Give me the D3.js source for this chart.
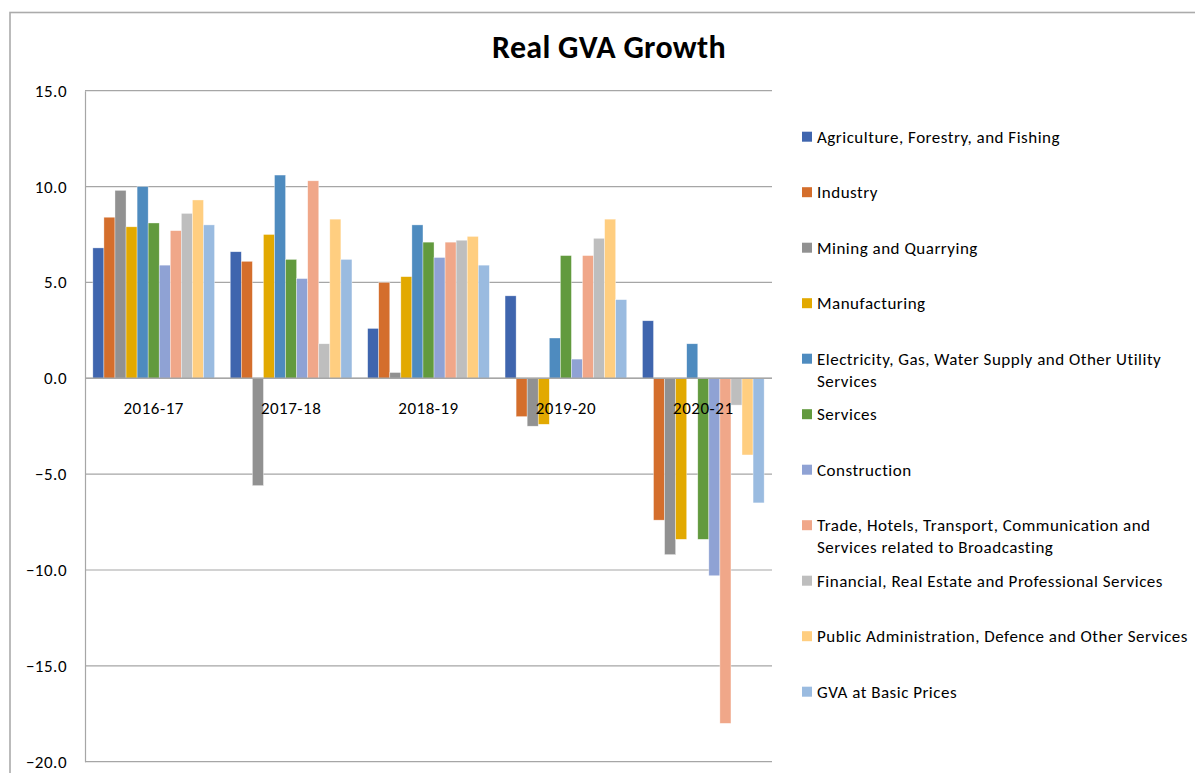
<!DOCTYPE html>
<html>
<head>
<meta charset="utf-8">
<script src="https://cdn.jsdelivr.net/npm/d3@7"></script>
<style>
  html, body { margin: 0; padding: 0; background: #fff; overflow: hidden; }
  svg { display: block; }
  text { font-family: Carlito, Calibri, Lato, "Open Sans", sans-serif; fill: #000; }
</style>
</head>
<body>
<svg id="chart" width="1195" height="773"></svg>
<script>
// ---- data ----
const categories = ["2016-17", "2017-18", "2018-19", "2019-20", "2020-21"];
const seriesNames = [
  "Agriculture, Forestry, and Fishing",
  "Industry",
  "Mining and Quarrying",
  "Manufacturing",
  "Electricity, Gas, Water Supply and Other Utility Services",
  "Services",
  "Construction",
  "Trade, Hotels, Transport, Communication and Services related to Broadcasting",
  "Financial, Real Estate and Professional Services",
  "Public Administration, Defence and Other Services",
  "GVA at Basic Prices"
];
// legend wrap: number of words on the first line (0 = no wrap)
const legendFirstLineWords = [0, 0, 0, 0, 7, 0, 0, 5, 0, 0, 0];
const agriculture   = [6.8, 6.6, 2.6, 4.3, 3.0];
const industry      = [8.4, 6.1, 5.0, -2.0, -7.4];
const mining        = [9.8, -5.6, 0.3, -2.5, -9.2];
const manufacturing = [7.9, 7.5, 5.3, -2.4, -8.4];
const electricity   = [10.0, 10.6, 8.0, 2.1, 1.8];
const services      = [8.1, 6.2, 7.1, 6.4, -8.4];
const construction  = [5.9, 5.2, 6.3, 1.0, -10.3];
const trade         = [7.7, 10.3, 7.1, 6.4, -18.0];
const financial     = [8.6, 1.8, 7.2, 7.3, -1.4];
const publicAdmin   = [9.3, 8.3, 7.4, 8.3, -4.0];
const gva           = [8.0, 6.2, 5.9, 4.1, -6.5];
const seriesValues = [agriculture, industry, mining, manufacturing, electricity,
  services, construction, trade, financial, publicAdmin, gva];
const seriesColors = ["#3F65AE", "#D46E2C", "#919191", "#E2A900", "#4E8BBF",
  "#629A3E", "#8FA2D4", "#F0A789", "#BEBEBE", "#FFCE80", "#9ABBE0"];
const yTicks = [15, 10, 5, 0, -5, -10, -15, -20];
const title = "Real GVA Growth";

// ---- layout ----
const svg = d3.select("#chart");
const plot = { left: 85, right: 772, top: 90.7, bottom: 761.7 };
const bodyFont = { size: "17px", spacing: "0.5px" };

// chart frame
svg.append("rect")
  .attr("x", 10).attr("y", 12.5).attr("width", 1300).attr("height", 900)
  .attr("fill", "none").attr("stroke", "#ABABAB").attr("stroke-width", 1.6);

// title
svg.append("text")
  .attr("x", 609).attr("y", 58)
  .attr("text-anchor", "middle")
  .style("font-size", "32px").style("font-weight", "bold")
  .style("letter-spacing", "0.3px")
  .text(title);

// scales
const y = d3.scaleLinear().domain([-20, 15]).range([plot.bottom, plot.top]);
const x0 = d3.scaleBand().domain(categories).range([plot.left, plot.right]).padding(0);
const x1 = d3.scaleBand().domain(d3.range(seriesNames.length))
  .range([0, x0.bandwidth()]).paddingInner(0).paddingOuter(0.71);

// gridlines
svg.append("g").selectAll("line").data(yTicks).join("line")
  .attr("x1", plot.left).attr("x2", plot.right)
  .attr("y1", d => y(d)).attr("y2", d => y(d))
  .attr("stroke", "#A6A6A6").attr("stroke-width", 1.2);

// y axis
const yAxis = svg.append("g")
  .attr("transform", `translate(${plot.left},0)`)
  .call(d3.axisLeft(y).tickValues(yTicks).tickFormat(d3.format(".1f")).tickSize(0).tickPadding(18));
yAxis.select(".domain").attr("stroke", "#A6A6A6").attr("stroke-width", 1.2);
yAxis.selectAll("text")
  .style("font-size", bodyFont.size)
  .style("letter-spacing", bodyFont.spacing)
  .style("font-family", "Carlito, Calibri, Lato, sans-serif")
  .attr("fill", "#000");

// bars
const rows = [];
categories.forEach((c, ci) => {
  seriesValues.forEach((vals, si) => rows.push({ c, si, v: vals[ci] }));
});
svg.append("g").selectAll("rect").data(rows).join("rect")
  .attr("x", d => x0(d.c) + x1(d.si))
  .attr("width", x1.bandwidth())
  .attr("y", d => y(Math.max(0, d.v)))
  .attr("height", d => Math.abs(y(d.v) - y(0)))
  .attr("fill", d => seriesColors[d.si])
  .attr("stroke", "#ffffff").attr("stroke-opacity", 0.6).attr("stroke-width", 0.6);

// zero axis line
svg.append("line")
  .attr("x1", plot.left).attr("x2", plot.right)
  .attr("y1", y(0)).attr("y2", y(0))
  .attr("stroke", "#A6A6A6").attr("stroke-width", 1.4);

// category labels (next to axis)
svg.append("g").selectAll("text").data(categories).join("text")
  .attr("x", d => x0(d) + x0.bandwidth() / 2)
  .attr("y", y(0) + 36)
  .attr("text-anchor", "middle")
  .style("font-size", bodyFont.size)
  .style("letter-spacing", bodyFont.spacing)
  .text(d => d);

// legend
const legend = svg.append("g");
const legendTop = 136.7, legendStep = 55.5, lineH = 22;
seriesNames.forEach((name, i) => {
  const cy = legendTop + i * legendStep;
  const g = legend.append("g");
  g.append("rect")
    .attr("x", 802).attr("y", cy - 5).attr("width", 10).attr("height", 10)
    .attr("fill", seriesColors[i]);
  const words = name.split(" ");
  const n = legendFirstLineWords[i];
  const lines = n > 0 ? [words.slice(0, n).join(" "), words.slice(n).join(" ")] : [name];
  const t = g.append("text").attr("x", 817).attr("y", cy + 6)
    .style("font-size", bodyFont.size).style("letter-spacing", bodyFont.spacing);
  lines.forEach((ln, k) => {
    t.append("tspan").attr("x", 817).attr("dy", k === 0 ? 0 : lineH).text(ln);
  });
});
</script>
</body>
</html>
